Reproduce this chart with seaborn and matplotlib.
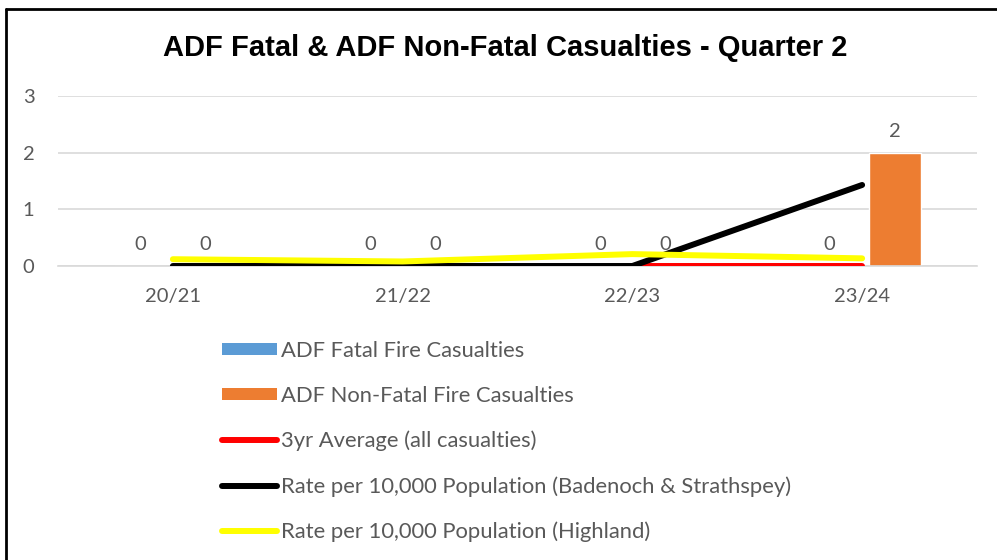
import numpy as np
import pandas as pd
import matplotlib
matplotlib.use("Agg")
import matplotlib.pyplot as plt
import seaborn as sns
from matplotlib.patches import Patch
from matplotlib.lines import Line2D

categories = ["20/21", "21/22", "22/23", "23/24"]
fatal = [0, 0, 0, 0]
non_fatal = [0, 0, 0, 2]
avg3yr = [np.nan, np.nan, 0, 0]
rate_bs = [0, 0, 0, 1.43]
rate_highland = [0.12, 0.08, 0.21, 0.135]

series_bar = ["ADF Fatal Fire Casualties", "ADF Non-Fatal Fire Casualties"]
series_line = ["3yr Average (all casualties)",
               "Rate per 10,000 Population (Badenoch & Strathspey)",
               "Rate per 10,000 Population (Highland)"]
title = "ADF Fatal & ADF Non-Fatal Casualties - Quarter 2"

bar_colors = ["#5b9bd5", "#ed7d31"]
line_colors = ["#ff0000", "#000000", "#ffff00"]
text_gray = "#595959"

sns.set_theme(style="white")
plt.rcParams["font.family"] = ["Lato", "DejaVu Sans"]

fig = plt.figure(figsize=(9.97, 5.6), dpi=100)
ax = fig.add_axes([58/997, (560-266)/560, (977-58)/997, 170/560])

df = pd.DataFrame({
    "cat": categories * 2,
    "val": fatal + non_fatal,
    "series": [series_bar[0]] * len(categories) + [series_bar[1]] * len(categories),
})
sns.barplot(data=df, x="cat", y="val", hue="series", palette=bar_colors,
            saturation=1, width=0.565, gap=0.2, ax=ax, legend=False, zorder=2)

for c in ax.containers:
    ax.bar_label(c, labels=[f"{v:g}" for v in c.datavalues], padding=9,
                 fontsize=14.5, color=text_gray)

xpos = np.arange(len(categories))
for vals, col in zip([avg3yr, rate_bs, rate_highland], line_colors):
    sns.lineplot(x=xpos, y=vals, color=col, linewidth=4.3, ax=ax,
                 solid_capstyle="round", zorder=3)

ax.set_ylim(0, 3)
ax.set_xlim(-0.5, len(categories) - 0.5)
ax.set_yticks([0, 1, 2, 3])
ax.yaxis.grid(True, color="#d9d9d9", linewidth=1.2)
ax.set_axisbelow(True)
for s in ["top", "right", "left"]:
    ax.spines[s].set_visible(False)
ax.spines["bottom"].set_color("#d9d9d9")
ax.spines["bottom"].set_linewidth(1.2)
ax.tick_params(axis="both", length=0, labelsize=14.5, labelcolor=text_gray)
ax.tick_params(axis="y", pad=17)
ax.tick_params(axis="x", pad=16)
ax.set_xlabel("")
ax.set_ylabel("")

fig.text(0.507, 0.914, title, ha="center", va="center", fontsize=21,
         fontweight="bold", family=["Liberation Sans", "DejaVu Sans"], color="black")

handles = [Patch(facecolor=bar_colors[0], edgecolor="none"),
           Patch(facecolor=bar_colors[1], edgecolor="none")]
handles += [Line2D([0], [0], color=c, linewidth=4.3, solid_capstyle="round") for c in line_colors]
labels = series_bar + series_line
leg = fig.legend(handles, labels, loc="upper left", bbox_to_anchor=(222/997, 1 - 341/560),
                 frameon=False, fontsize=15.8, handlelength=2.5, handleheight=0.43,
                 handletextpad=0.18, labelspacing=1.13, borderaxespad=0, borderpad=0)
for t in leg.get_texts():
    t.set_color(text_gray)

# outer frame (cropped on right and bottom)
fig.add_artist(plt.Line2D([6/997, 6/997], [0, 1 - 9/560], color="black", linewidth=2,
                          transform=fig.transFigure))
fig.add_artist(plt.Line2D([6/997, 1], [1 - 9/560, 1 - 9/560], color="black", linewidth=2,
                          transform=fig.transFigure))

fig.savefig("out.png", dpi=100)
